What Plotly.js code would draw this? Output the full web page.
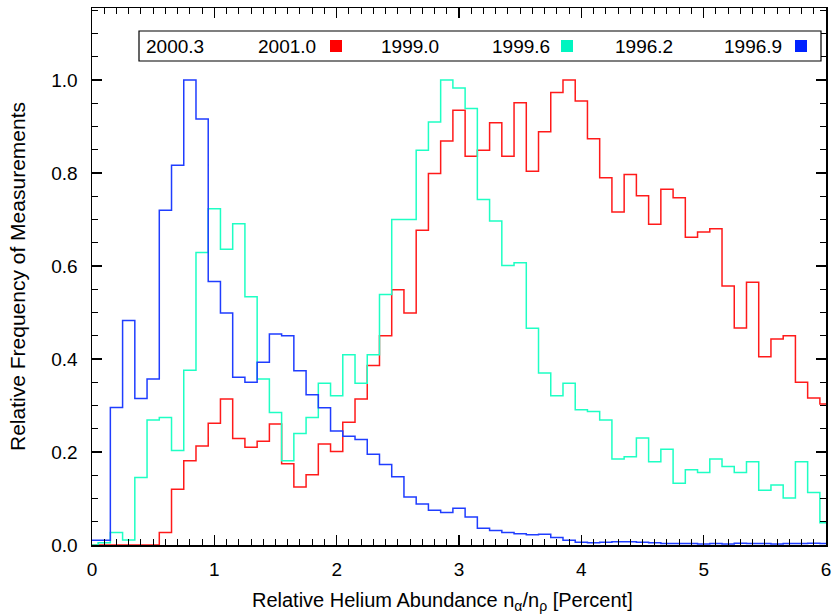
<!DOCTYPE html>
<html>
<head>
<meta charset="utf-8">
<script src="https://cdn.plot.ly/plotly-3.0.1.min.js"></script>
<style>html,body{margin:0;padding:0;background:#fff;}#chart{width:832px;height:616px;}</style>
</head>
<body>
<div id="chart"></div>
<script>
// Bin centres (percent), 0.0 .. 6.0 step 0.1
const binCenters = [0.0,0.1,0.2,0.3,0.4,0.5,0.6,0.7,0.8,0.9,1.0,1.1,1.2,1.3,1.4,1.5,1.6,1.7,1.8,1.9,2.0,2.1,2.2,2.3,2.4,2.5,2.6,2.7,2.8,2.9,3.0,3.1,3.2,3.3,3.4,3.5,3.6,3.7,3.8,3.9,4.0,4.1,4.2,4.3,4.4,4.5,4.6,4.7,4.8,4.9,5.0,5.1,5.2,5.3,5.4,5.5,5.6,5.7,5.8,5.9,6.0];

// 2000.3 - 2001.0 (red)
const redValues = [0,0,0,0,0,0,0.027,0.120,0.181,0.213,0.262,0.314,0.229,0.210,0.223,0.260,0.175,0.125,0.151,0.217,0.201,0.264,0.314,0.386,0.450,0.549,0.499,0.677,0.799,0.869,0.935,0.836,0.849,0.908,0.836,0.951,0.804,0.889,0.973,1.000,0.955,0.874,0.790,0.716,0.797,0.751,0.690,0.765,0.747,0.662,0.673,0.680,0.557,0.467,0.565,0.405,0.443,0.450,0.350,0.316,0.303];

// 1999.0 - 1999.6 (cyan)
const cyanValues = [0,0.005,0.027,0.011,0.145,0.269,0.274,0.203,0.376,0.629,0.723,0.636,0.691,0.534,0.357,0.285,0.181,0.240,0.274,0.348,0.321,0.409,0.348,0.409,0.539,0.700,0.700,0.849,0.910,1.000,0.983,0.939,0.743,0.697,0.601,0.607,0.466,0.370,0.321,0.348,0.291,0.287,0.269,0.185,0.190,0.230,0.179,0.206,0.133,0.162,0.156,0.185,0.169,0.156,0.179,0.118,0.129,0.101,0.179,0.113,0.048];

// 1996.2 - 1996.9 (blue)
const blueValues = [0.010,0.010,0.296,0.483,0.315,0.357,0.720,0.817,1.000,0.916,0.567,0.499,0.361,0.350,0.393,0.454,0.450,0.375,0.323,0.295,0.245,0.234,0.227,0.195,0.173,0.147,0.103,0.088,0.075,0.070,0.079,0.060,0.036,0.031,0.027,0.024,0.022,0.023,0.016,0.010,0.006,0.005,0.006,0.007,0.007,0.006,0.005,0.003,0.003,0.003,0.002,0.003,0.002,0.004,0.003,0.003,0.002,0.003,0.003,0.004,0.003];

const legendLabels = ['2000.3','2001.0','1999.0','1999.6','1996.2','1996.9'];
const seriesColors = ['#ff1a1a','#1effc4','#1f3dff'];
const legendSquareColors = ['#ff0000','#00f5c0','#0022ff'];

const FONT = 'Liberation Sans, Arial, sans-serif';

function stepTrace(y, color){
  return {x: binCenters, y: y, type:'scatter', mode:'lines',
    line:{shape:'hvh', color: color, width:1.5}, showlegend:false, hoverinfo:'skip'};
}

const traces = [
  stepTrace(redValues, seriesColors[0]),
  stepTrace(cyanValues, seriesColors[1]),
  stepTrace(blueValues, seriesColors[2])
];

// plot area in pixels: left 92, right 826, top 8, bottom 545
const L=92, R=826, T=8, B=545;
const px = p => (p-L)/(R-L);
const py = p => (B-p)/(B-T);

const legendY = 46;
const textPos = [175, 287, 410, 521, 644, 753];
const sqPos = [336, 567, 801];

const annotations = legendLabels.map((t,i)=>({
  text:t, xref:'paper', yref:'paper', x:px(textPos[i]), y:py(legendY),
  xanchor:'center', yanchor:'middle', showarrow:false,
  font:{family:FONT, size:19, color:'#000'}
}));

const shapes = [
  {type:'rect', xref:'paper', yref:'paper', x0:px(139), x1:px(821), y0:py(61), y1:py(31),
   line:{color:'#000', width:1.2}, fillcolor:'#fff', layer:'above'}
];
sqPos.forEach((c,i)=>{
  shapes.push({type:'rect', xref:'paper', yref:'paper', x0:px(c-6), x1:px(c+6), y0:py(legendY+6), y1:py(legendY-6),
    line:{width:0}, fillcolor:legendSquareColors[i], layer:'above'});
});

const layout = {
  width:832, height:616,
  margin:{l:L, r:832-R, t:T, b:616-B},
  paper_bgcolor:'#fff', plot_bgcolor:'#fff',
  font:{family:FONT, size:16, color:'#000'},
  xaxis:{range:[0,6], tickvals:[0,1,2,3,4,5,6], ticktext:['0','1','2','3','4','5','6'],
    ticks:'inside', ticklen:10, tickwidth:1.2, tickcolor:'#000',
    minor:{dtick:0.1, ticks:'inside', ticklen:6, tickcolor:'#000', tickwidth:1},
    showline:true, linecolor:'#000', linewidth:1.5, mirror:'allticks', showgrid:false, zeroline:false,
    tickfont:{family:FONT, size:19}, ticklabelstandoff:7,
    title:{text:'Relative Helium Abundance n<sub>α</sub>/n<sub>ρ</sub> [Percent]&nbsp;&nbsp;&nbsp;&nbsp;&nbsp;&nbsp;', font:{family:FONT, size:20}, standoff:13}},
  yaxis:{range:[0,1.155], tickvals:[0,0.2,0.4,0.6,0.8,1.0], ticktext:['0.0','0.2','0.4','0.6','0.8','1.0'],
    ticks:'inside', ticklen:10, tickwidth:1.2, tickcolor:'#000',
    minor:{dtick:0.05, ticks:'inside', ticklen:6, tickcolor:'#000', tickwidth:1},
    showline:true, linecolor:'#000', linewidth:1.5, mirror:'allticks', showgrid:false, zeroline:false,
    tickfont:{family:FONT, size:19}, ticklabelstandoff:9,
    title:{text:'Relative Frequency of Measurements', font:{family:FONT, size:21}, standoff:20}},
  annotations: annotations,
  shapes: shapes
};

Plotly.newPlot('chart', traces, layout, {staticPlot:true, displayModeBar:false});
</script>
</body>
</html>
